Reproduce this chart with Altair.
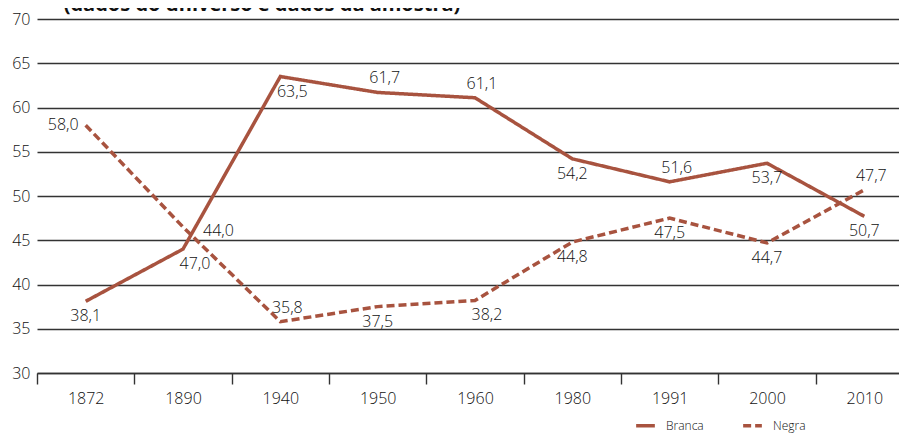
import altair as alt
import pandas as pd

years = ["1872", "1890", "1940", "1950", "1960", "1980", "1991", "2000", "2010"]
branca = [38.1, 44.0, 63.5, 61.7, 61.1, 54.2, 51.6, 53.7, 47.7]
negra = [58.0, 46.5, 35.8, 37.5, 38.2, 44.8, 47.5, 44.7, 50.7]
branca_labels = ["38,1", "47,0", "63,5", "61,7", "61,1", "54,2", "51,6", "53,7", "50,7"]
negra_labels = ["58,0", "44,0", "35,8", "37,5", "38,2", "44,8", "47,5", "44,7", "47,7"]
branca_pos = ["below", "belowright", "belowright", "above", "above", "below", "above", "below", "below"]
negra_pos = ["left", "right", "above", "below", "belowright", "below", "below", "below", "above"]
series = ["Branca", "Negra"]
title_text = "(dados do universo e dados da amostra)"

COLOR = "#a8533f"
FONT = "Open Sans, sans-serif"
W = 300
TXT = "#111"

rows = []
for s, vals, labs, poss in [("Branca", branca, branca_labels, branca_pos),
                            ("Negra", negra, negra_labels, negra_pos)]:
    for y, v, l, p in zip(years, vals, labs, poss):
        rows.append({"ano": y, "serie": s, "valor": v, "rotulo": l, "pos": p})
df = pd.DataFrame(rows)

x_enc = alt.X("ano:N", sort=years,
              scale=alt.Scale(type="band", paddingInner=0, paddingOuter=0),
              axis=alt.Axis(title=None, labelAngle=0, tickBand="extent", tickSize=11,
                            tickColor="#333", tickWidth=1.4, domainColor="#333",
                            domainWidth=1.4, labelFontSize=16, labelPadding=6,
                            labelColor=TXT, labelFont=FONT, labelFontWeight=W,
                            grid=False))
y_enc = alt.Y("valor:Q",
              scale=alt.Scale(domain=[30, 70], nice=False, zero=False),
              axis=alt.Axis(title=None, values=list(range(30, 75, 5)), domain=False,
                            ticks=False, labelPadding=7, labelFontSize=16,
                            labelColor=TXT, labelFont=FONT, labelFontWeight=W,
                            gridColor="#333", gridWidth=1.3, gridOpacity=1))

leg = dict(title=None, orient="none", legendX=597, legendY=395,
           direction="horizontal", symbolType="stroke",
           symbolStrokeWidth=3.5, symbolSize=350,
           labelFontSize=12, labelFont=FONT, labelFontWeight=W, labelColor=TXT,
           labelOffset=9, columnPadding=32)

base = alt.Chart(df)

lines = base.mark_line(strokeWidth=3.5).encode(
    x=x_enc, y=y_enc,
    color=alt.Color("serie:N", scale=alt.Scale(domain=series, range=[COLOR, COLOR]),
                    legend=alt.Legend(**leg)),
    strokeDash=alt.StrokeDash("serie:N", scale=alt.Scale(domain=series, range=[[1, 0], [8, 4]]),
                              legend=alt.Legend(**leg)),
)

specs = {
    "below": dict(align="center", baseline="middle", dx=0, dy=15),
    "belowright": dict(align="center", baseline="middle", dx=12, dy=15),
    "above": dict(align="center", baseline="middle", dx=7, dy=-14),
    "left": dict(align="right", baseline="middle", dx=-7, dy=0),
    "right": dict(align="left", baseline="middle", dx=20, dy=4),
}
texts = []
for p, kw in specs.items():
    texts.append(
        base.transform_filter(alt.datum.pos == p).mark_text(
            fontSize=16, font=FONT, fontWeight=W, color=TXT, **kw
        ).encode(x=alt.X("ano:N", sort=years), y="valor:Q", text="rotulo:N")
    )

title = alt.Chart(pd.DataFrame({"t": [title_text]})).mark_text(
    fontSize=20, fontWeight="bold", font="Open Sans, sans-serif", color="#111",
    align="center", baseline="alphabetic"
).encode(x=alt.value(225), y=alt.value(-8), text="t:N")

chart = alt.layer(lines, *texts, title).properties(
    width=876, height=354,
    autosize=alt.AutoSizeParams(type="none"),
    padding={"left": 29, "top": 11, "right": -14, "bottom": 62},
).configure_view(stroke=None)

chart.save("out.html", embed_options={"renderer": "svg", "actions": False})
